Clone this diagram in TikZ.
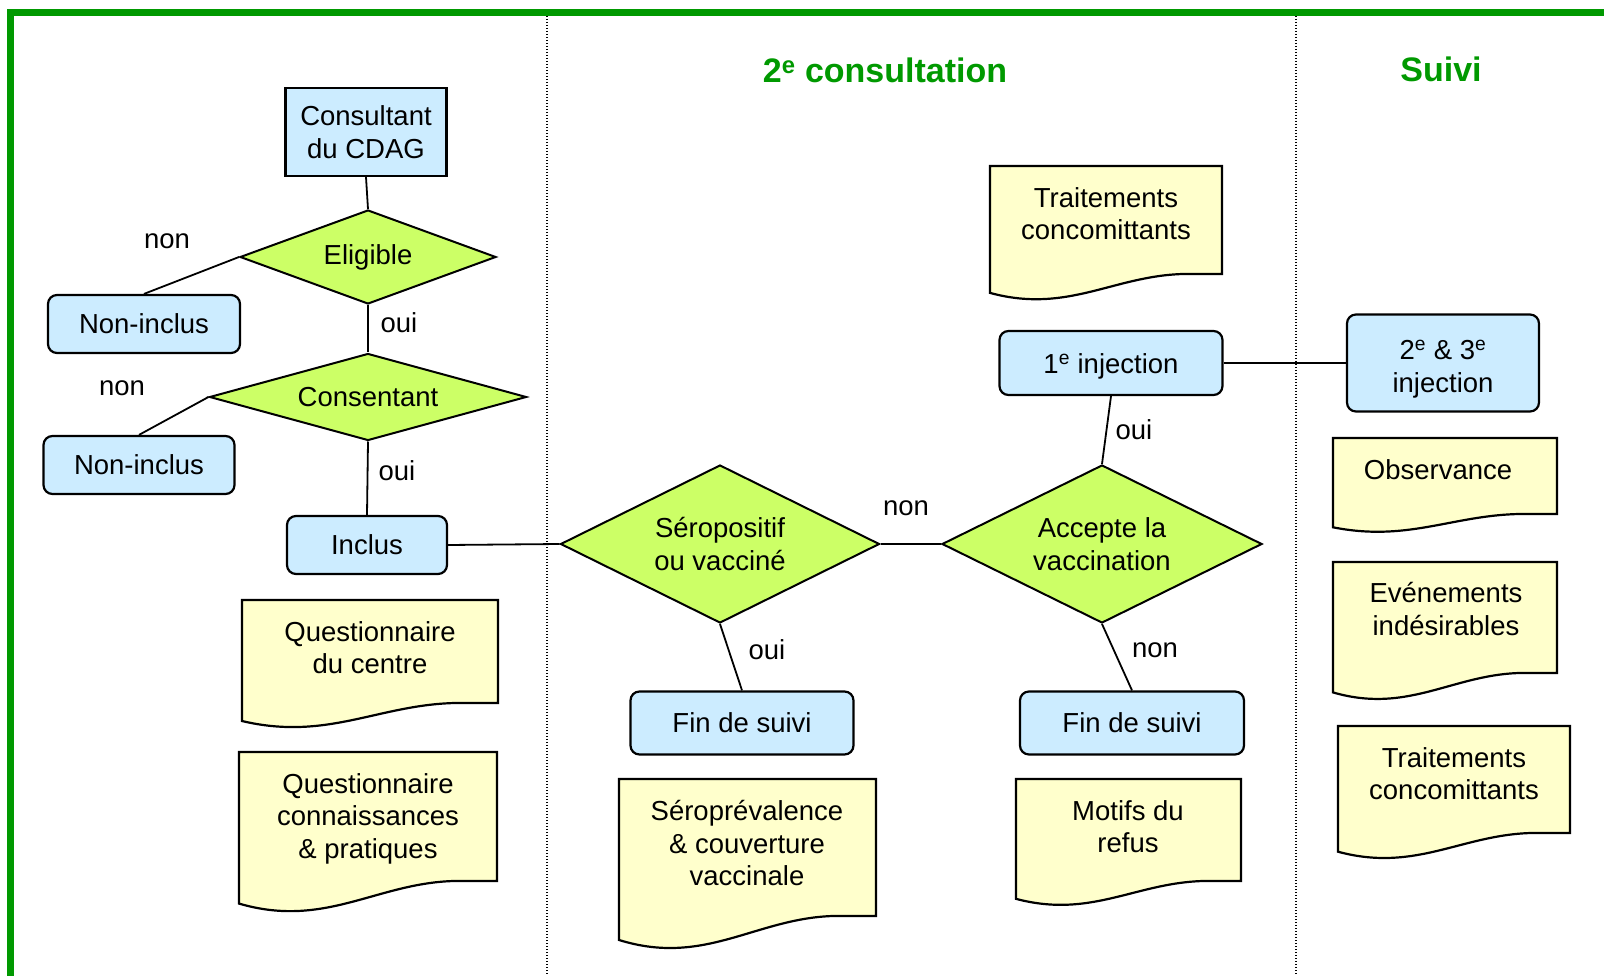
\documentclass[tikz,border=0pt]{standalone}
\usepackage{fontspec}
\setmainfont{Liberation Sans}
\usetikzlibrary{shapes.geometric}
\definecolor{frgreen}{HTML}{009900}
\definecolor{boxblue}{HTML}{CCECFF}
\definecolor{diagreen}{HTML}{CCFF66}
\definecolor{docyellow}{HTML}{FFFFCC}
\newcommand\mainsz{\fontsize{27.5}{32.7}\selectfont}
\newcommand\titlesz{\fontsize{34}{40}\selectfont\bfseries}
\newcommand\supe{\smash{\textsuperscript{e}}}
\newcommand\docshape[4]{%
  \pgfmathsetmacro\docW{#3-#1}\pgfmathsetmacro\docH{#4-#2}%
  \draw[docline] (#1,#2) -- (#3,#2) -- (#3,#4) -- ({#3-0.12*\docW},#4)
    .. controls ({#1+0.55*\docW},{#4-0.02*\docH}) and ({#1+0.35*\docW},{#4+0.38*\docH})
    .. (#1,{#4+0.175*\docH}) -- cycle;}
\tikzset{
  sqbox/.style={draw, line width=2.2, fill=boxblue, align=center, inner sep=0, font=\mainsz},
  rbox/.style={sqbox, rounded corners=9},
  decision/.style={diamond, draw, line width=2, fill=diagreen, align=center, inner sep=0, font=\mainsz},
  conn/.style={line width=1.8},
  lbl/.style={inner sep=0, font=\mainsz},
  doctext/.style={inner sep=0, align=center, anchor=north, font=\mainsz},
  docline/.style={draw, line width=2.2, fill=docyellow, line join=miter},
  titletext/.style={inner sep=0, font=\titlesz, text=frgreen},
  dotline/.style={line width=1.3, dash pattern=on 1.3pt off 1.7pt}
}
\begin{document}
\begin{tikzpicture}[x=1pt, y=-1pt]
\useasboundingbox (0,0) rectangle (1604,976);
\clip (0,0) rectangle (1604,976);
\fill[white] (0,0) rectangle (1604,976);
% frame
\draw[frgreen, line width=7, line join=miter] (10.5,1100) -- (10.5,12.5) -- (1700,12.5);
% separators
\draw[dotline] (547,16) -- (547,976);
\draw[dotline] (1296,16) -- (1296,976);
% titles
\node[titletext] (t1) at (885,70) {2\supe\ consultation};
\node[titletext] (t2) at (1441,69) {Suivi};
% documents
\docshape{242}{600}{498}{703}
\node[doctext] (dq1) at (370,621) {Questionnaire\\du centre};
\docshape{239}{752}{497}{881}
\node[doctext] (dq2) at (368,773) {Questionnaire\\connaissances\\\& pratiques};
\docshape{990}{166}{1222}{274}
\node[doctext] (dtr1) at (1106,187) {Traitements\\concomittants};
\docshape{1333}{438}{1557}{514}
\node[doctext] (dobs) at (1438,459) {Observance};
\docshape{1333}{562}{1557}{673}
\node[doctext] (dev) at (1446,582) {Evénements\\indésirables};
\docshape{1338}{726}{1570}{833}
\node[doctext] (dtr2) at (1454,747) {Traitements\\concomittants};
\docshape{619}{779}{876}{916}
\node[doctext] (dsero) at (747,800) {Séroprévalence\\\& couverture\\vaccinale};
\docshape{1016}{779}{1241}{881}
\node[doctext] (dmot) at (1128,800) {Motifs du\\refus};
% nodes
\node[sqbox, minimum width=161, minimum height=88] (cdag) at (366,132) {Consultant\\du CDAG};
\node[decision, minimum width=256, minimum height=94, shape aspect=2.7] (elig) at (368,257) {Eligible};
\node[rbox, minimum width=192, minimum height=58] (ni1) at (144,324) {Non-inclus};
\node[decision, minimum width=317, minimum height=87, shape aspect=3.6] (cons) at (368,397) {Consentant};
\node[rbox, minimum width=191, minimum height=58] (ni2) at (139,465) {Non-inclus};
\node[rbox, minimum width=160, minimum height=58] (incl) at (367,545) {Inclus};
\node[decision, minimum width=319, minimum height=158, shape aspect=2] (sero) at (720,544) {Séropositif\\ou vacciné};
\node[decision, minimum width=320, minimum height=158, shape aspect=2] (acc) at (1102,544) {Accepte la\\vaccination};
\node[rbox, minimum width=223, minimum height=64] (inj1) at (1111,363) {\rule{0pt}{26pt}1\supe\ injection};
\node[rbox, minimum width=192, minimum height=97] (inj23) at (1443,363) {\rule{0pt}{32pt}2\supe\ \& 3\supe\\injection};
\node[rbox, minimum width=223, minimum height=63] (fin1) at (742,723) {Fin de suivi};
\node[rbox, minimum width=224, minimum height=63] (fin2) at (1132,723) {Fin de suivi};
% connectors
\draw[conn] (cdag.south) -- (elig.north);
\draw[conn] (elig.west) -- (ni1.north);
\draw[conn] (elig.south) -- (cons.north);
\draw[conn] (cons.west) -- (ni2.north);
\draw[conn] (cons.south) -- (incl.north);
\draw[conn] (incl.east) -- (sero.west);
\draw[conn] (sero.east) -- (acc.west);
\draw[conn] (acc.north) -- (inj1.south);
\draw[conn] (inj1.east) -- (inj23.west);
\draw[conn] (sero.south) -- (fin1.north);
\draw[conn] (acc.south) -- (fin2.north);
% labels
\node[lbl] (l1) at (167,241) {non};
\node[lbl] (l2) at (399,323) {oui};
\node[lbl] (l3) at (122,388) {non};
\node[lbl] (l4) at (397,471) {oui};
\node[lbl] (l5) at (906,508) {non};
\node[lbl] (l6) at (1134,430) {oui};
\node[lbl] (l7) at (767,650) {oui};
\node[lbl] (l8) at (1155,650) {non};
\end{tikzpicture}
\end{document}
